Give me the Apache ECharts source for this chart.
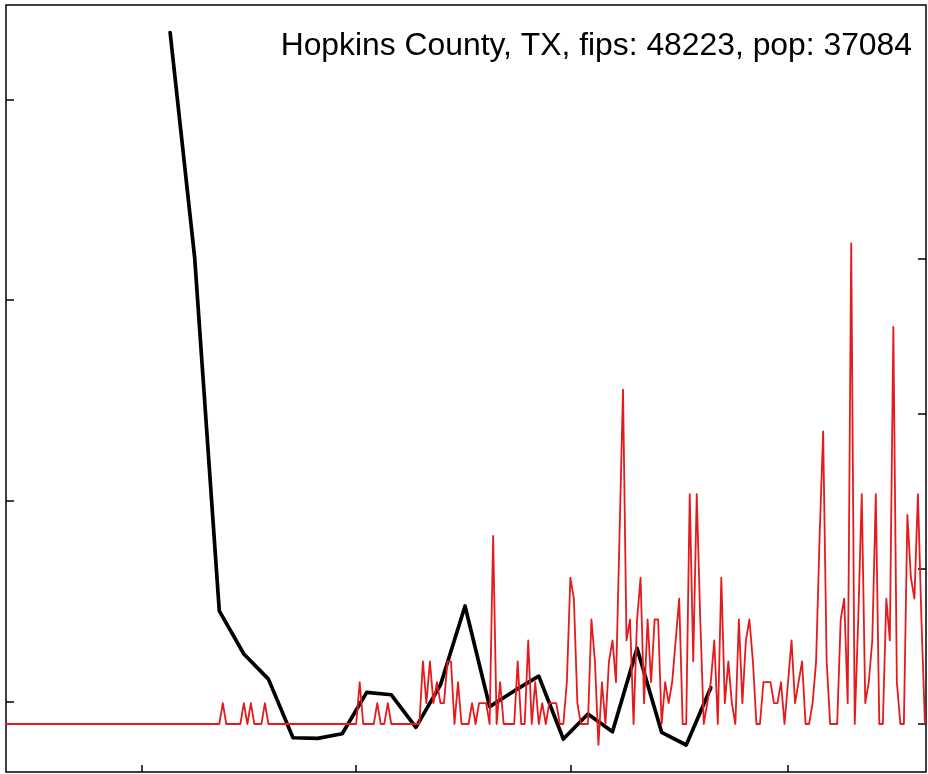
<!DOCTYPE html>
<html><head><meta charset="utf-8">
<script src="https://cdn.jsdelivr.net/npm/echarts@6/dist/echarts.min.js"></script>
<style>html,body{margin:0;padding:0;background:#fff}#c{width:928px;height:774px}</style>
</head><body><div id="c"></div>
<script>
const chartTitle = 'Hopkins County, TX, fips: 48223, pop: 37084';
const population = 37084;

// daily new cases, day index 0 = 2020-01-22
const dailyCases = [
  0,0,0,0,0,0,0,0,0,0,
  0,0,0,0,0,0,0,0,0,0,
  0,0,0,0,0,0,0,0,0,0,
  0,0,0,0,0,0,0,0,0,0,
  0,0,0,0,0,0,0,0,0,0,
  0,0,0,0,0,0,0,0,0,0,
  0,0,1,0,0,0,0,0,1,0,
  1,0,0,0,1,0,0,0,0,0,
  0,0,0,0,0,0,0,0,0,0,
  0,0,0,0,0,0,0,0,0,0,
  0,2,0,0,0,0,1,0,0,1,
  0,0,0,0,0,0,0,0,0,3,
  1,3,1,2,1,1,3,3,0,2,
  0,0,0,1,0,1,1,1,0,9,
  0,2,0,0,0,0,3,0,0,4,
  0,2,0,1,0,1,1,1,0,0,
  2,7,6,1,0,0,0,5,3,-1,
  2,0,3,4,2,9,16,4,5,0,
  5,7,1,5,2,5,5,0,2,1,
  2,4,6,0,0,11,3,11,5,0,
  1,2,4,0,7,1,3,1,0,5,
  1,4,5,3,0,0,2,2,2,1,
  1,2,0,2,4,1,2,3,0,0,
  1,3,9,14,3,0,0,0,5,6,
  1,23,0,5,11,1,2,4,11,0,
  0,6,4,19,2,0,0,10,7,6,
  11,5,0
];

// weekly series (black), day index of each point and its value
const weeklyDays = [47,54,61,68,75,82,89,96,103,110,117,124,131,138,145,152,159,166,173,180,187,194,201];
const weeklyValues = [3.332,2.210,0.454,0.239,0.114,-0.178,-0.181,-0.158,0.048,0.036,-0.126,0.085,0.478,-0.023,0.055,0.129,-0.184,-0.060,-0.148,0.267,-0.151,-0.214,0.071];

// tick positions (no labels shown)
const xTickDays = [39, 100, 161, 223];          // Mar 1, May 1, Jul 1, Sep 1
const leftTicks = [0, 1, 2, 3];
const rightTicksPer100k = [0, 20, 40, 60];

const redData = dailyCases.map((v, i) => [i, v * 100000 / population]);
const blackData = weeklyDays.map((d, i) => [d, weeklyValues[i]]);

const tickStyle = {color:'#000', width:1.5};
const chart = echarts.init(document.getElementById('c'), null, {renderer:'canvas'});
chart.setOption({
  animation:false,
  backgroundColor:'#fff',
  grid:{left:6, right:2, top:5, bottom:2, show:true, borderColor:'#000', borderWidth:1.5, backgroundColor:'transparent', containLabel:false},
  xAxis:{type:'value', min:0.25, max:262.3, position:'bottom',
    axisLine:{show:false, onZero:false}, axisLabel:{show:false}, splitLine:{show:false},
    axisTick:{show:true, inside:true, length:7, lineStyle:tickStyle, customValues:xTickDays}},
  yAxis:[
    {type:'value', position:'left', min:-0.3484, max:3.4694,
      axisLine:{show:false, onZero:false}, axisLabel:{show:false}, splitLine:{show:false},
      axisTick:{show:true, inside:true, length:8, lineStyle:tickStyle, customValues:leftTicks}},
    {type:'value', position:'right', min:-6.19, max:92.77,
      axisLine:{show:false, onZero:false}, axisLabel:{show:false}, splitLine:{show:false},
      axisTick:{show:true, inside:true, length:8, lineStyle:tickStyle, customValues:rightTicksPer100k}}
  ],
  series:[
    {type:'line', yAxisIndex:0, data:blackData, showSymbol:false, symbol:'none',
      lineStyle:{color:'#000', width:3.7, join:'round', cap:'round'}, z:2},
    {type:'line', yAxisIndex:1, data:redData, showSymbol:false, symbol:'none',
      lineStyle:{color:'#E41A1C', width:1.8, join:'round'}, z:3}
  ],
  graphic:[{type:'text', x:912, y:46.5, z:10,
    style:{text:chartTitle, font:'31.85px "Liberation Sans", Arial, sans-serif', fill:'#000',
      align:'right', verticalAlign:'middle', textAlign:'right', textVerticalAlign:'middle'}}]
});
</script></body></html>
